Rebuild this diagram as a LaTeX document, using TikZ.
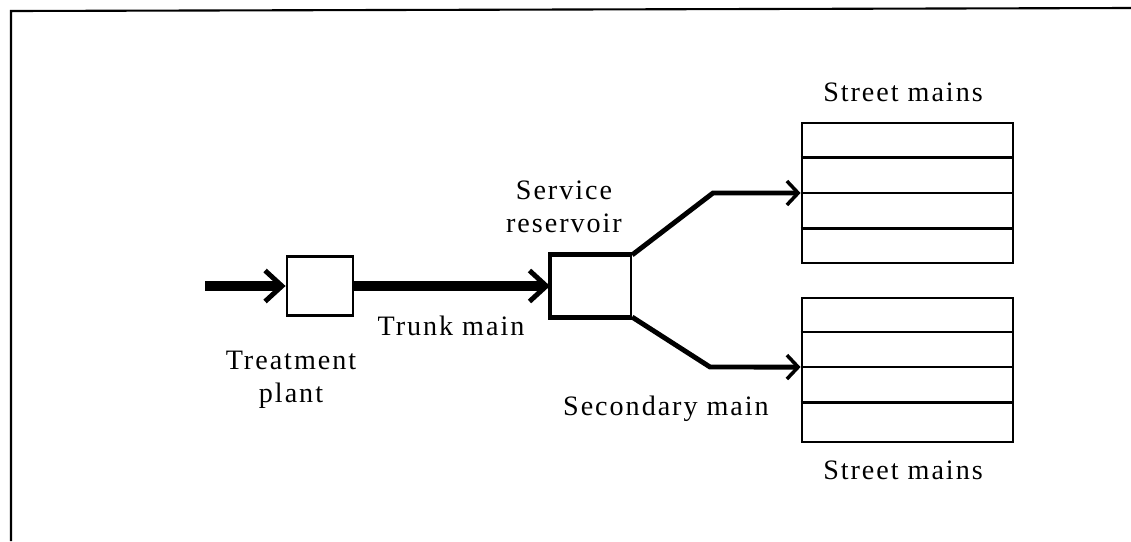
\documentclass[tikz,border=0pt]{standalone}
\usepackage{fontspec}
\setmainfont{Liberation Serif}[LetterSpace=7]
\usetikzlibrary{arrows.meta, positioning, calc}

\begin{document}
\begin{tikzpicture}[x=0.025cm, y=-0.025cm, line join=miter, every node/.style={font=\fontsize{20}{23.5}\selectfont}]
    \tikzstyle{plantbox} = [rectangle, draw, line width=2pt, minimum width=1.65cm, minimum height=1.475cm, inner sep=0pt]
    \tikzstyle{resbox} = [rectangle, draw, line width=1.5pt, minimum width=2cm, minimum height=1.5cm, inner sep=0pt]
    \tikzstyle{mainsbox} = [rectangle, draw, line width=2pt, minimum width=5.275cm, inner sep=0pt]
    \tikzstyle{label} = [align=center, inner sep=0pt]
    \tikzstyle{trunk} = [draw, line width=7pt, -{Straight Barb[length=12pt, width=22pt, line width=3.5pt]}]
    \tikzstyle{branch} = [draw, line width=3.5pt, -{Straight Barb[length=8pt, width=17pt, line width=2.5pt]}]
    \tikzstyle{rim} = [draw, line width=3.5pt]
    \tikzstyle{row} = [draw, line width=1.8pt]

    \useasboundingbox (0,0) rectangle (1131,541);
    \draw [line width=1.5pt] (11,541) -- (11,11) -- (1131,8);

    \node [plantbox] (plant) at (320,286) {};
    \node [resbox, right of=plant, node distance=6.775cm] (res) {};
    \node [mainsbox, minimum height=3.5cm] (upper) at (907.5,193) {};
    \node [mainsbox, minimum height=3.6cm] (lower) at (907.5,370) {};

    % rows of street mains
    \foreach \f [count=\i] in {0.25,0.5,0.75} {
        \coordinate (upper-\i) at ($(upper.north west)!\f!(upper.south west)$);
        \path [row] (upper-\i) -- (upper-\i -| upper.east);
    }
    \foreach \f [count=\i] in {0.24,0.48,0.72} {
        \coordinate (lower-\i) at ($(lower.north west)!\f!(lower.south west)$);
        \path [row] (lower-\i) -- (lower-\i -| lower.east);
    }

    \coordinate (inlet) at (205,286);
    \coordinate (bendup) at (713,193);
    \coordinate (benddown) at (710,367);

    \path [trunk] (inlet) -- (plant);
    \path [trunk] (plant) -- (res);
    \path [rim] (res.south east) -- (res.south west) -- (res.north west) -- (res.north east);
    \path [branch] (res.north east) -- (bendup) -- (upper-2);
    \path [branch] (res.south east) -- (benddown) -- (lower-2);

    \node [label] (treatlbl) at (291,380) {Treatment\\plant};
    \node [label] (trunklbl) at (451,326) {Trunk main};
    \node [label] (reslbl) at (564,207) {Service\\reservoir};
    \node [label] (seclbl) at (666,409) {Secondary main};
    \node [label] (upperlbl) at (903,92.5) {Street mains};
    \node [label] (lowerlbl) at (903,470.5) {Street mains};
\end{tikzpicture}
\end{document}
